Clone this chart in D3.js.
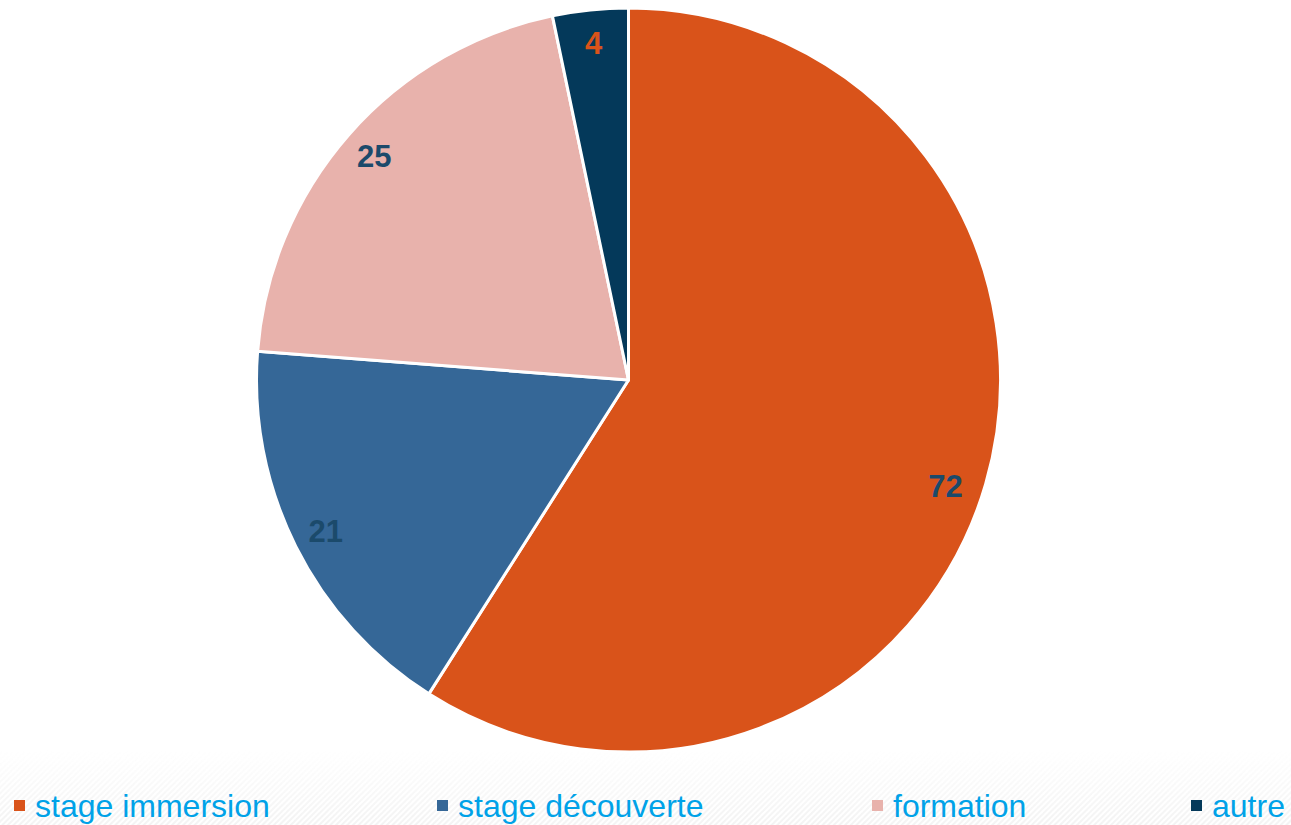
<!DOCTYPE html>
<html>
<head>
<meta charset="utf-8">
<script src="https://cdn.jsdelivr.net/npm/d3@7/dist/d3.min.js"></script>
<style>
  html, body { margin: 0; padding: 0; background: #ffffff; }
  svg { display: block; }
</style>
</head>
<body>
<svg id="chart" width="1291" height="825"></svg>
<script>
// Répartition par type d'activité
const categories = ["stage immersion", "stage découverte", "formation", "autre"];
const values = [72, 21, 25, 4];
const colors = ["#D9531A", "#356797", "#E8B2AC", "#04395A"];
const labelColors = ["#1B4A6B", "#1B4A6B", "#1B4A6B", "#D9531A"];

const W = 1291, H = 825;
const cx = 628.5, cy = 380, R = 372;

const svg = d3.select("#chart");

// faint hatched band behind the legend, fading in from the top
const defs = svg.append("defs");
const grad = defs.append("linearGradient")
  .attr("id", "bandFade").attr("x1", 0).attr("y1", 0).attr("x2", 0).attr("y2", 1);
grad.append("stop").attr("offset", "0%").attr("stop-color", "#fff").attr("stop-opacity", 0);
grad.append("stop").attr("offset", "100%").attr("stop-color", "#fff").attr("stop-opacity", 1);
const mask = defs.append("mask").attr("id", "bandMask")
  .attr("maskUnits", "userSpaceOnUse").attr("x", 0).attr("y", 750).attr("width", W).attr("height", H - 750);
mask.append("rect").attr("x", 0).attr("y", 750).attr("width", W).attr("height", H - 750)
  .attr("fill", "url(#bandFade)");
const pat = defs.append("pattern")
  .attr("id", "hatch").attr("width", 4).attr("height", 4)
  .attr("patternUnits", "userSpaceOnUse").attr("patternTransform", "rotate(45)");
pat.append("rect").attr("width", 2).attr("height", 4).attr("fill", "#eeeeee");
svg.append("rect").attr("x", 0).attr("y", 750).attr("width", W).attr("height", H - 750)
  .attr("fill", "url(#hatch)").attr("opacity", 0.7).attr("mask", "url(#bandMask)");

const data = categories.map((c, i) => ({ name: c, value: values[i], color: colors[i], labelColor: labelColors[i] }));

const pie = d3.pie().value(d => d.value).sort(null);
const arcs = pie(data);
const arc = d3.arc().innerRadius(0).outerRadius(R);
const labelArc = d3.arc().innerRadius(R * 0.91).outerRadius(R * 0.91);
// best-fit nudge for the large slice's label
const labelNudge = { "stage immersion": [-8, 12] };

const g = svg.append("g").attr("transform", `translate(${cx},${cy})`);

g.selectAll("path.slice")
  .data(arcs)
  .join("path")
  .attr("class", "slice")
  .attr("d", arc)
  .attr("fill", d => d.data.color)
  .attr("stroke", "#ffffff")
  .attr("stroke-width", 3)
  .attr("stroke-linejoin", "round");

g.selectAll("text.val")
  .data(arcs)
  .join("text")
  .attr("class", "val")
  .attr("transform", d => {
    const [x, y] = labelArc.centroid(d);
    const [nx, ny] = labelNudge[d.data.name] || [0, 0];
    return `translate(${x + nx},${y + ny})`;
  })
  .attr("text-anchor", "middle")
  .attr("dominant-baseline", "central")
  .attr("font-family", "Liberation Sans, Arial, sans-serif")
  .attr("font-weight", "bold")
  .attr("font-size", 31)
  .attr("fill", d => d.data.labelColor)
  .text(d => d.data.value);

// legend
const legendX = [14, 437, 872, 1191];
const legend = svg.append("g");
const items = legend.selectAll("g.item")
  .data(data)
  .join("g")
  .attr("class", "item")
  .attr("transform", (d, i) => `translate(${legendX[i]},0)`);
items.append("rect")
  .attr("x", 0).attr("y", 800).attr("width", 11).attr("height", 11)
  .attr("fill", d => d.color);
items.append("text")
  .attr("x", 21).attr("y", 817)
  .attr("font-family", "Liberation Sans, Arial, sans-serif")
  .attr("font-size", 32)
  .attr("fill", "#00A2E8")
  .text(d => d.name);
</script>
</body>
</html>
